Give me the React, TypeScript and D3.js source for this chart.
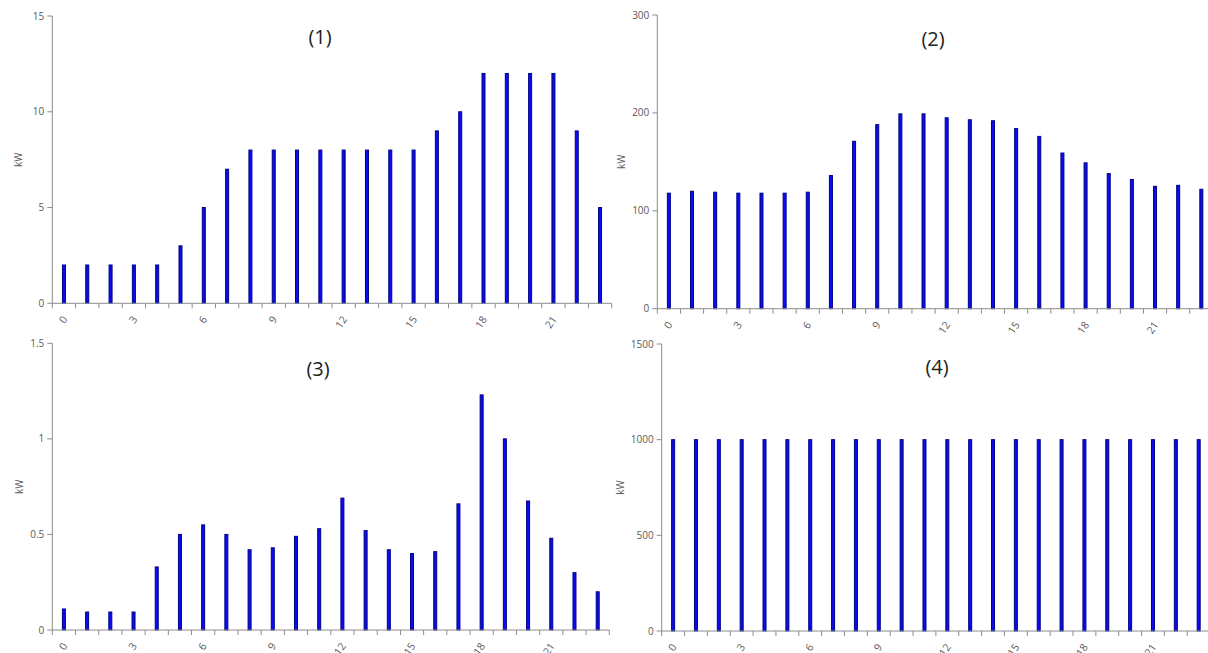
import React from "react";
import * as d3 from "d3";

// Hour-of-day categories and tick labels
const hours = [0, 1, 2, 3, 4, 5, 6, 7, 8, 9, 10, 11, 12, 13, 14, 15, 16, 17, 18, 19, 20, 21, 22, 23];
const hourLabels = ["0", "3", "6", "9", "12", "15", "18", "21"];

// Hourly power per profile (kW)
const load1 = [2, 2, 2, 2, 2, 3, 5, 7, 8, 8, 8, 8, 8, 8, 8, 8, 9, 10, 12, 12, 12, 12, 9, 5];
const load2 = [118, 120, 119, 118, 118, 118, 119, 136, 171, 188, 199, 199, 195, 193, 192, 184, 176, 159, 149, 138, 132, 125, 126, 122];
const load3 = [0.11, 0.094, 0.094, 0.094, 0.33, 0.5, 0.55, 0.5, 0.42, 0.43, 0.49, 0.53, 0.69, 0.52, 0.42, 0.4, 0.41, 0.66, 1.23, 1.0, 0.675, 0.48, 0.3, 0.2];
const load4 = [1000, 1000, 1000, 1000, 1000, 1000, 1000, 1000, 1000, 1000, 1000, 1000, 1000, 1000, 1000, 1000, 1000, 1000, 1000, 1000, 1000, 1000, 1000, 1000];

// Y-axis ticks per panel
const ticks1 = [0, 5, 10, 15];
const ticks2 = [0, 100, 200, 300];
const ticks3 = [0, 0.5, 1, 1.5];
const ticks4 = [0, 500, 1000, 1500];

const titles = ["(1)", "(2)", "(3)", "(4)"];

type PanelProps = {
  values: number[];
  yTicks: number[];
  title: string;
  left: number;
  right: number;
  top: number;
  bottom: number;
  labelX: number;
  titleX: number;
  titleY: number;
};

const AXIS = "#8c8c8c";
const TEXT = "#5a5a5a";
const FONT = "'Open Sans', 'Noto Sans', sans-serif";

function Panel({ values, yTicks, title, left, right, top, bottom, labelX, titleX, titleY }: PanelProps) {
  const x = d3.scaleBand<number>().domain(hours).range([left, right]).padding(0);
  const y = d3
    .scaleLinear()
    .domain([0, yTicks[yTicks.length - 1]])
    .range([bottom, top]);
  const step = x.step();
  const boundaries = d3.range(hours.length + 1).map((i) => left + i * step);
  const fmt = (v: number) => String(v);
  const barW = 3;

  return (
    <g>
      {/* title */}
      <text x={titleX} y={titleY} textAnchor="middle" fontFamily={FONT} fontSize={20} fill="#222">
        {title}
      </text>

      {/* y axis */}
      <line x1={left} x2={left} y1={y(yTicks[yTicks.length - 1])} y2={bottom} stroke={AXIS} strokeWidth={1} />
      {yTicks.map((t) => (
        <g key={t} transform={`translate(${left},${y(t)})`}>
          <line x1={-5} x2={0} stroke={AXIS} strokeWidth={1} />
          <text x={-8} dy="0.35em" textAnchor="end" fontFamily={FONT} fontSize={10} fill={TEXT}>
            {fmt(t)}
          </text>
        </g>
      ))}
      <text
        transform={`translate(${labelX},${(top + bottom) / 2}) rotate(-90)`}
        textAnchor="middle"
        dy="0.35em"
        fontFamily={FONT}
        fontSize={10}
        fill={TEXT}
      >
        kW
      </text>

      {/* bars */}
      {hours.map((h, i) => {
        const cx = (x(h) as number) + step / 2;
        return (
          <rect
            key={h}
            x={cx - barW / 2}
            y={y(values[i])}
            width={barW}
            height={bottom - y(values[i])}
            fill="#0c0cf0"
            stroke="#000088"
            strokeWidth={1}
          />
        );
      })}

      {/* x axis */}
      <line x1={left} x2={right} y1={bottom} y2={bottom} stroke={AXIS} strokeWidth={1} />
      {boundaries.map((bx, i) => (
        <line key={i} x1={bx} x2={bx} y1={bottom} y2={bottom + 5} stroke={AXIS} strokeWidth={1} />
      ))}
      {hours
        .filter((h) => hourLabels.includes(String(h)))
        .map((h) => {
          const cx = (x(h) as number) + step / 2;
          return (
            <text
              key={h}
              transform={`translate(${cx + 1},${bottom + 14}) rotate(-55)`}
              textAnchor="end"
              dy="0.35em"
              fontFamily={FONT}
              fontSize={10.5}
              fill={TEXT}
            >
              {String(h)}
            </text>
          );
        })}
    </g>
  );
}

export default function App() {
  return (
    <svg
      width={1208}
      height={653}
      style={{ position: "absolute", left: 0, top: 0, background: "#fff" }}
    >
      <rect width={1208} height={653} fill="#fff" />
      <Panel values={load1} yTicks={ticks1} title={titles[0]} left={52.3} right={611.7} top={16} bottom={303.3} labelX={18} titleX={320} titleY={44} />
      <Panel values={load2} yTicks={ticks2} title={titles[1]} left={657.3} right={1212.9} top={15} bottom={308.7} labelX={621} titleX={933} titleY={46} />
      <Panel values={load3} yTicks={ticks3} title={titles[2]} left={52.3} right={609.3} top={343.3} bottom={630} labelX={19} titleX={318} titleY={376} />
      <Panel values={load4} yTicks={ticks4} title={titles[3]} left={661.7} right={1210.1} top={344} bottom={631} labelX={620} titleX={937} titleY={374} />
    </svg>
  );
}
